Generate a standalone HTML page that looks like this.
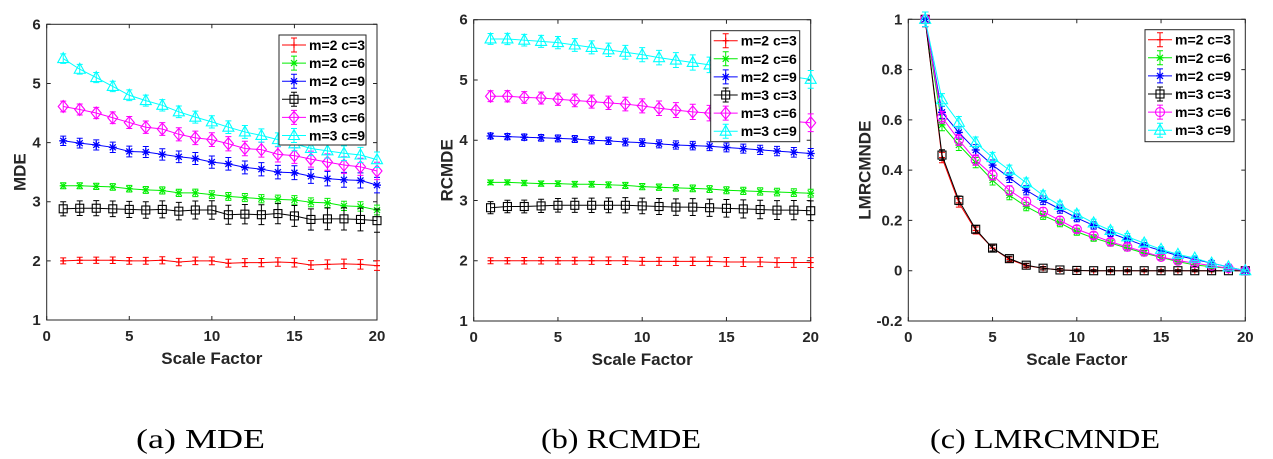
<!DOCTYPE html>
<html><head><meta charset="utf-8">
<style>
html,body{margin:0;padding:0;background:#fff;}
svg{display:block;}
text{font-family:"Liberation Sans",sans-serif;}
.tick{font-size:15px;font-weight:bold;fill:#262626;}
.alab{font-size:17px;font-weight:bold;fill:#262626;}
.leg{font-size:14px;font-weight:bold;fill:#000;}
.cap{font-family:"Liberation Serif",serif;font-size:27px;fill:#000;}
</style></head>
<body>
<svg id="fig" width="1273" height="459" viewBox="0 0 1273 459" xmlns="http://www.w3.org/2000/svg">
<text class="cap" x="136" y="448" textLength="129" lengthAdjust="spacingAndGlyphs">(a)  MDE</text>
<text class="cap" x="541" y="448" textLength="160" lengthAdjust="spacingAndGlyphs">(b) RCMDE</text>
<text class="cap" x="930" y="448" textLength="230" lengthAdjust="spacingAndGlyphs">(c) LMRCMNDE</text>
</svg>
<script>
const scales = [1,2,3,4,5,6,7,8,9,10,11,12,13,14,15,16,17,18,19,20];
const seriesNames = ["m=2 c=3","m=2 c=6","m=2 c=9","m=3 c=3","m=3 c=6","m=3 c=9"];
// Panel A: MDE
const mdeRed = [2.0,2.01,2.01,2.01,2.0,2.0,2.01,1.98,2.0,2.0,1.96,1.97,1.97,1.98,1.97,1.93,1.94,1.95,1.94,1.92];
const mdeGreen = [3.27,3.27,3.26,3.25,3.22,3.2,3.19,3.15,3.15,3.12,3.09,3.07,3.05,3.04,3.03,2.99,2.98,2.93,2.92,2.86];
const mdeBlue = [4.03,3.99,3.96,3.92,3.85,3.84,3.8,3.76,3.73,3.67,3.64,3.58,3.55,3.5,3.49,3.43,3.39,3.37,3.36,3.28];
const mdeBlack = [2.88,2.89,2.89,2.88,2.87,2.86,2.87,2.84,2.86,2.86,2.78,2.79,2.78,2.8,2.76,2.7,2.71,2.71,2.7,2.68];
const mdeMagenta = [4.61,4.56,4.5,4.42,4.34,4.26,4.23,4.14,4.08,4.05,3.98,3.9,3.88,3.8,3.78,3.72,3.67,3.62,3.59,3.52];
const mdeCyan = [5.42,5.24,5.1,4.95,4.8,4.71,4.63,4.52,4.43,4.35,4.26,4.18,4.12,4.05,3.98,3.9,3.86,3.82,3.79,3.71];
const mdeErr = [0.05,0.05,0.08,0.12,0.09,0.08];
// Panel B: RCMDE
const rcRed = [2.0,2.0,2.0,2.0,2.0,2.0,2.0,2.0,2.0,1.99,1.99,1.99,1.99,1.99,1.98,1.98,1.98,1.97,1.97,1.97];
const rcGreen = [3.3,3.3,3.29,3.28,3.28,3.27,3.27,3.26,3.25,3.23,3.22,3.21,3.2,3.19,3.17,3.16,3.15,3.14,3.13,3.12];
const rcBlue = [4.07,4.06,4.05,4.04,4.03,4.02,4.0,3.99,3.97,3.96,3.94,3.92,3.91,3.9,3.88,3.86,3.84,3.82,3.8,3.78];
const rcBlack = [2.88,2.9,2.9,2.91,2.92,2.92,2.92,2.92,2.92,2.91,2.9,2.89,2.89,2.88,2.87,2.86,2.85,2.84,2.84,2.83];
const rcMagenta = [4.73,4.73,4.71,4.7,4.68,4.66,4.64,4.62,4.6,4.57,4.53,4.5,4.47,4.45,4.42,4.4,4.37,4.34,4.31,4.29];
const rcCyan = [5.68,5.68,5.66,5.64,5.62,5.58,5.54,5.5,5.46,5.42,5.37,5.33,5.29,5.25,5.21,5.17,5.13,5.09,5.05,5.01];
const rcErr = [0.05,0.04,0.05,0.1,0.09,0.09];
// Panel C: LMRCMNDE
const lmRed = [1,0.45,0.27,0.16,0.09,0.045,0.02,0.01,0.003,0.001,0,0,0,0,0,0,0,0,0,0];
const lmGreen = [1,0.58,0.5,0.43,0.36,0.3,0.255,0.22,0.19,0.155,0.13,0.11,0.09,0.07,0.053,0.036,0.023,0.016,0.01,0];
const lmBlue = [1,0.63,0.55,0.48,0.42,0.37,0.32,0.28,0.245,0.21,0.18,0.15,0.125,0.1,0.08,0.06,0.045,0.03,0.015,0];
const lmBlack = [1,0.46,0.28,0.165,0.09,0.048,0.022,0.01,0.003,0.001,0,0,0,0,0,0,0,0,0,0];
const lmMagenta = [1,0.61,0.52,0.44,0.38,0.32,0.275,0.235,0.2,0.165,0.14,0.115,0.095,0.075,0.055,0.04,0.03,0.02,0.01,0];
const lmCyan = [1,0.68,0.59,0.51,0.45,0.4,0.35,0.3,0.26,0.225,0.19,0.16,0.135,0.11,0.085,0.065,0.05,0.03,0.015,0];
const lmErr = [0.025,0.025,0.025,0.025,0.025,0.025];
const xTicks = [0,5,10,15,20];
const yTicksA = [1,2,3,4,5,6];
const yTicksC = [-0.2,0,0.2,0.4,0.6,0.8,1];

const colors = ["#ff0000","#00ee00","#0000ff","#000000","#ff00ff","#00ffff"];
const NS = "http://www.w3.org/2000/svg";
const svg = document.getElementById("fig");
function mk(tag, attrs, parent){
  const e = document.createElementNS(NS, tag);
  for (const k in attrs) e.setAttribute(k, attrs[k]);
  (parent||svg).appendChild(e);
  return e;
}
function marker(g, kind, x, y, c){
  let m;
  if (kind==="plus"){ m = mk("path",{d:`M${x-3} ${y}H${x+3}M${x} ${y-3}V${y+3}`,stroke:c,"stroke-width":1.2,fill:"none"},g); }
  else if (kind==="x"){ m = mk("path",{d:`M${x-3} ${y-3}L${x+3} ${y+3}M${x-3} ${y+3}L${x+3} ${y-3}M${x-3.5} ${y}H${x+3.5}`,stroke:c,"stroke-width":1.2,fill:"none"},g); }
  else if (kind==="star"){ m = mk("path",{d:`M${x-4} ${y}H${x+4}M${x} ${y-4}V${y+4}M${x-3} ${y-3}L${x+3} ${y+3}M${x-3} ${y+3}L${x+3} ${y-3}`,stroke:c,"stroke-width":1.3,fill:"none"},g); }
  else if (kind==="square"){ m = mk("rect",{x:x-4,y:y-4,width:8,height:8,stroke:c,"stroke-width":1.1,fill:"none"},g); }
  else if (kind==="diamond"){ m = mk("path",{d:`M${x} ${y-6}L${x+5} ${y}L${x} ${y+6}L${x-5} ${y}Z`,stroke:c,"stroke-width":1.1,fill:"none"},g); }
  else if (kind==="circle"){ m = mk("circle",{cx:x,cy:y,r:4.5,stroke:c,"stroke-width":1.1,fill:"none"},g); }
  else { m = mk("path",{d:`M${x} ${y-6}L${x+5.5} ${y+4}L${x-5.5} ${y+4}Z`,stroke:c,"stroke-width":1.1,fill:"none"},g); }
  
  
}
function panel(id, box, xmin, xmax, ymin, ymax, yTicks, yLabel, series, errs, kinds, legBox, fmt, relErr, ylOff){
  const g = mk("g",{});
  
  
  const sx = v => box.l + (v-xmin)/(xmax-xmin)*(box.r-box.l);
  const sy = v => box.b - (v-ymin)/(ymax-ymin)*(box.b-box.t);
  const frame = mk("rect",{x:box.l,y:box.t,width:box.r-box.l,height:box.b-box.t,fill:"#fff",stroke:"#262626","stroke-width":1},g);
  
  
  xTicks.forEach(t=>{
    const x = sx(t);
    mk("path",{d:`M${x} ${box.b}V${box.b-4}M${x} ${box.t}V${box.t+4}`,stroke:"#262626"},g);
    const tx = mk("text",{x:x,y:box.b+21,"text-anchor":"middle",class:"tick"},g);
    tx.textContent = t;
    
    
  });
  yTicks.forEach(t=>{
    const y = sy(t);
    mk("path",{d:`M${box.l} ${y}H${box.l+4}M${box.r} ${y}H${box.r-4}`,stroke:"#262626"},g);
    const ty = mk("text",{x:box.l-6,y:y+5,"text-anchor":"end",class:"tick"},g);
    ty.textContent = fmt(t);
    
    
  });
  const xl = mk("text",{x:(box.l+box.r)/2,y:box.b+44,"text-anchor":"middle",class:"alab"},g);
  xl.textContent = "Scale Factor";
  
  
  const cy = (box.t+box.b)/2, cx = box.l-ylOff;
  const yl = mk("text",{x:cx,y:cy,"text-anchor":"middle",class:"alab",transform:`rotate(-90 ${cx} ${cy})`},g);
  yl.textContent = yLabel;
  
  
  series.forEach((vals,i)=>{
    const sg = mk("g",{},g);
    
    
    const c = colors[i];
    const pts = vals.map((v,k)=>sx(scales[k])+","+sy(v)).join(" ");
    const pl = mk("polyline",{points:pts,fill:"none",stroke:c,"stroke-width":1},sg);
    
    
    vals.forEach((v,k)=>{
      const x = sx(scales[k]);
      const e = relErr ? (errs[i]*Math.sqrt(Math.max(v,0)) + 0.004) : errs[i]*(1+k/30);
      const y1 = sy(v+e), y2 = sy(v-e);
      const eb = mk("path",{d:`M${x} ${y1}V${y2}M${x-3} ${y1}H${x+3}M${x-3} ${y2}H${x+3}`,stroke:c,"stroke-width":1,fill:"none"},sg);
      
      
      marker(sg, kinds[i], x, sy(v), c);
    });
  });
  const lg = mk("g",{},g);
  
  
  mk("rect",{x:legBox.x,y:legBox.y,width:legBox.w,height:legBox.h,fill:"#fff",stroke:"#262626","stroke-width":1},lg);
  seriesNames.forEach((n,i)=>{
    const y = legBox.y+10+i*18.1, c = colors[i];
    const x0 = legBox.x+3, x1 = legBox.x+27, xm = (x0+x1)/2;
    const le = mk("g",{},lg);
    
    
    mk("path",{d:`M${x0} ${y}H${x1}M${xm} ${y-7}V${y+7}M${xm-3} ${y-7}H${xm+3}M${xm-3} ${y+7}H${xm+3}`,stroke:c,"stroke-width":1,fill:"none"},le);
    marker(le, kinds[i], xm, y, c);
    const t = mk("text",{x:legBox.x+30,y:y+5,class:"leg"},le);
    t.textContent = n;
  });
}
const kindsAB = ["plus","x","star","square","diamond","tri"];
const kindsC = ["plus","x","star","square","circle","tri"];
panel("panel-mde",{l:46.7,r:377,t:24.3,b:320},0,20,1,6,yTicksA,"MDE",
  [mdeRed,mdeGreen,mdeBlue,mdeBlack,mdeMagenta,mdeCyan],mdeErr,kindsAB,{x:279,y:35,w:87,h:110},t=>String(t),false,21);
panel("panel-rcmde",{l:473.7,r:810.7,t:19.7,b:321},0,20,1,6,yTicksA,"RCMDE",
  [rcRed,rcGreen,rcBlue,rcBlack,rcMagenta,rcCyan],rcErr,kindsAB,{x:710.7,y:30.7,w:89,h:111},t=>String(t),false,21);
panel("panel-lmrcmnde",{l:908.3,r:1245.3,t:19.3,b:321},0,20,-0.2,1,yTicksC,"LMRCMNDE",
  [lmRed,lmGreen,lmBlue,lmBlack,lmMagenta,lmCyan],lmErr,kindsC,{x:1145,y:29.7,w:89,h:112},t=>String(Math.round(t*10)/10),true,38);
</script>
</body></html>
